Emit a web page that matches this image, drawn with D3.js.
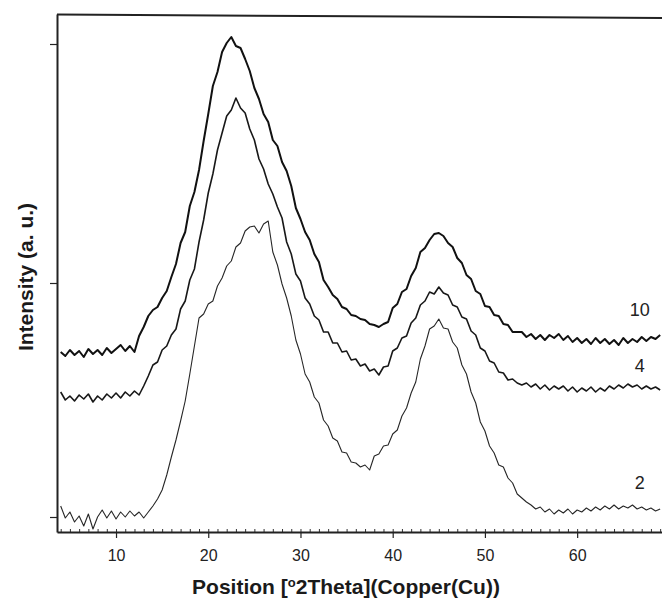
<!DOCTYPE html>
<html lang="en">
<head>
<meta charset="utf-8">
<script src="https://cdn.jsdelivr.net/npm/d3@7"></script>
<style>
  body { margin: 0; background: #fff; }
  svg { display: block; font-family: "Liberation Sans", Arial, Helvetica, sans-serif; }
</style>
</head>
<body>
<script>
// 2theta grid: 4 to 69 deg, 0.5 deg steps
var thetaStart = 4, thetaStep = 0.5;

// intensity (a.u.), one value per step
var series10 = [
  165,161,167,162,166,160,168,163,167,162,
  169,164,168,172,166,171,165,181,190,201,
  207,210,219,226,240,253,274,285,311,325,
  347,376,403,431,445,465,474,480,471,469,
  458,446,429,418,403,395,377,371,355,346,
  331,309,298,285,277,263,255,237,230,222,
  218,210,208,202,201,198,197,193,192,190,
  193,195,209,213,225,228,241,249,265,269,
  277,283,284,281,274,270,259,254,242,238,
  226,223,211,210,202,201,193,192,185,185,
  185,180,183,178,182,177,182,179,183,177,
  181,175,179,174,178,173,179,174,178,173,
  177,172,179,174,178,175,180,176,180,178,
  182
];
var series4 = [
  125,117,121,116,122,118,123,115,121,117,
  123,119,124,119,125,121,126,122,131,141,
  152,155,167,171,182,188,208,216,237,248,
  275,297,324,343,367,384,401,407,419,409,
  404,388,377,358,348,333,323,310,299,275,
  263,243,236,219,213,201,197,185,185,174,
  174,165,166,157,158,151,153,146,148,142,
  150,151,166,169,179,181,194,199,212,216,
  225,223,230,224,222,212,210,200,198,186,
  182,169,166,156,154,145,144,137,138,134,
  132,134,130,133,128,132,127,131,128,131,
  126,130,125,129,126,130,125,129,126,131,
  128,132,129,133,130,132,128,131,128,130,
  127
];
var series2 = [
  11,-1,5,-5,1,-9,3,-12,0,7,
  -1,6,-2,5,0,6,1,5,-1,5,
  11,18,27,42,60,77,96,116,143,171,
  199,203,213,216,231,239,251,256,270,274,
  286,290,291,284,293,296,265,252,233,219,
  201,177,163,143,135,120,114,97,91,79,
  76,65,64,55,54,50,52,47,61,63,
  71,72,83,87,101,109,124,135,158,171,
  188,191,198,189,188,175,169,152,143,125,
  114,95,86,71,64,52,50,39,34,23,
  19,15,12,8,10,5,8,3,7,4,
  8,3,7,5,9,6,10,7,11,8,
  12,8,11,9,12,8,10,7,9,6,
  8
];
var seriesNames = ["10", "4", "2"];
var xTicks = [10, 20, 30, 40, 50, 60];
var yTicks = [0, 234, 473];

var w = 662, h = 598;

var x = d3.scaleLinear().domain([3.6, 69.2]).range([57, 662]);
var y = d3.scaleLinear().domain([-15, 503]).range([532, 14]);

var svg = d3.select("body").append("svg")
  .attr("width", w)
  .attr("height", h);

// curves
var allSeries = [series10, series4, series2];
var widths = [2, 1.6, 1.1];
var colours = ["#111", "#181818", "#262626"];

var line = d3.line()
  .x(function(d) { return x(d[0]); })
  .y(function(d) { return y(d[1]); });

allSeries.forEach(function(s, k) {
  var pts = s.map(function(v, i) { return [thetaStart + i * thetaStep, v]; });
  svg.append("path")
    .datum(pts)
    .attr("fill", "none")
    .attr("stroke", colours[k])
    .attr("stroke-width", widths[k])
    .attr("stroke-linejoin", "round")
    .attr("d", line);
});

// curve labels
var labelPos = [[66.8, 201], [66.8, 145], [66.8, 28]];
seriesNames.forEach(function(n, k) {
  svg.append("text")
    .attr("x", x(labelPos[k][0]))
    .attr("y", y(labelPos[k][1]))
    .attr("text-anchor", "middle")
    .style("font-size", "18px")
    .attr("fill", "#222")
    .text(n);
});

// frame top (scan is slightly tilted)
svg.append("line")
  .attr("x1", x.range()[0]).attr("y1", 14.5)
  .attr("x2", x.range()[1]).attr("y2", 18)
  .attr("stroke", "#222").attr("stroke-width", 2);

// minor ticks on x axis (inside)
var minor = svg.append("g")
  .attr("transform", "translate(0," + y.range()[0] + ")")
  .call(d3.axisBottom(x).tickValues(d3.range(4, 70, 1)).tickSize(-3).tickFormat(""));
minor.select(".domain").remove();
minor.selectAll("line").attr("stroke", "#333");

// x axis
var xAxis = svg.append("g")
  .attr("transform", "translate(0," + y.range()[0] + ")")
  .call(d3.axisBottom(x).tickValues(xTicks).tickSize(6).tickPadding(12).tickSizeOuter(0));
xAxis.select(".domain").attr("stroke", "#222").attr("stroke-width", 2);
xAxis.selectAll(".tick line").attr("stroke", "#222").attr("stroke-width", 1.2);
xAxis.selectAll("text")
  .style("font-size", "16px")
  .style("font-family", "'Liberation Sans', Arial, sans-serif")
  .attr("fill", "#222");

// y axis, unlabeled ticks
var yAxis = svg.append("g")
  .attr("transform", "translate(" + x.range()[0] + ",0)")
  .call(d3.axisLeft(y).tickValues(yTicks).tickSize(7).tickSizeOuter(0).tickFormat(""));
yAxis.select(".domain").attr("stroke", "#222").attr("stroke-width", 2);
yAxis.selectAll(".tick line").attr("stroke", "#222").attr("stroke-width", 1.2);

// axis titles
var xt = svg.append("text")
  .attr("x", 346)
  .attr("y", 594)
  .attr("text-anchor", "middle")
  .style("font-size", "21px")
  .style("font-weight", "bold")
  .attr("fill", "#1a1a1a");
xt.append("tspan").text("Position [");
xt.append("tspan").attr("baseline-shift", "super").style("font-size", "13px").text("o");
xt.append("tspan").text("2Theta](Copper(Cu))");

svg.append("text")
  .attr("transform", "translate(33,277) rotate(-90)")
  .attr("text-anchor", "middle")
  .style("font-size", "21px")
  .style("font-weight", "bold")
  .attr("fill", "#1a1a1a")
  .text("Intensity (a. u.)");
</script>
</body>
</html>
